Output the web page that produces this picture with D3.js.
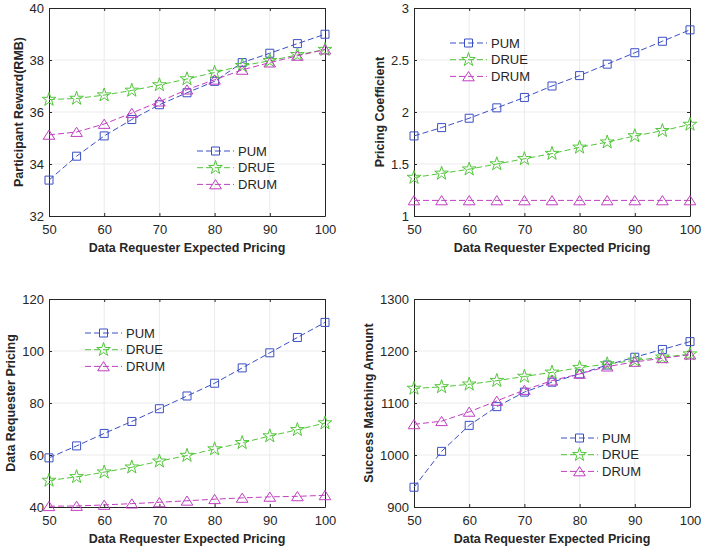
<!DOCTYPE html>
<html>
<head>
<meta charset="utf-8">
<script src="https://cdn.jsdelivr.net/npm/d3@7"></script>
<style>
  body { margin: 0; background: #fff; }
  svg { display: block; font-family: "Liberation Sans", Arial, sans-serif; }
</style>
</head>
<body>
<div class="canvas"></div>
<script>
// shared x values
const pricing = [50, 55, 60, 65, 70, 75, 80, 85, 90, 95, 100]
const xTicks = [50, 60, 70, 80, 90, 100]
const seriesNames = ['PUM', 'DRUE', 'DRUM']

// participant reward
const rewardPUM = [33.38, 34.30, 35.08, 35.71, 36.28, 36.74, 37.18, 37.90, 38.26, 38.63, 38.99]
const rewardDRUE = [36.48, 36.52, 36.65, 36.83, 37.04, 37.27, 37.52, 37.78, 37.97, 38.20, 38.40]
const rewardDRUM = [35.12, 35.23, 35.54, 35.96, 36.40, 36.86, 37.24, 37.62, 37.90, 38.16, 38.40]
const rewardTicks = [32, 34, 36, 38, 40]

// pricing coefficient
const coefPUM = [1.77, 1.85, 1.94, 2.04, 2.14, 2.25, 2.35, 2.46, 2.57, 2.68, 2.79]
const coefDRUE = [1.37, 1.41, 1.45, 1.50, 1.55, 1.60, 1.66, 1.71, 1.77, 1.82, 1.88]
const coefDRUM = [1.15, 1.15, 1.15, 1.15, 1.15, 1.15, 1.15, 1.15, 1.15, 1.15, 1.15]
const coefTicks = [1, 1.5, 2, 2.5, 3]

// data requester pricing
const reqPUM = [58.9, 63.5, 68.3, 72.9, 77.8, 82.7, 87.6, 93.5, 99.3, 105.2, 111.0]
const reqDRUE = [50.2, 51.6, 53.4, 55.3, 57.6, 59.8, 62.3, 64.7, 67.3, 69.7, 72.3]
const reqDRUM = [40.3, 40.4, 40.8, 41.3, 41.8, 42.4, 43.0, 43.5, 43.9, 44.1, 44.5]
const reqTicks = [40, 60, 80, 100, 120]

// success matching amount
const matchPUM = [938, 1007, 1057, 1093, 1121, 1140, 1156, 1173, 1188, 1203, 1218]
const matchDRUE = [1128, 1131, 1136, 1143, 1151, 1159, 1168, 1175, 1182, 1188, 1194]
const matchDRUM = [1059, 1065, 1083, 1104, 1125, 1143, 1156, 1170, 1179, 1186, 1193]
const matchTicks = [900, 1000, 1100, 1200, 1300]

const colors = ['#3b4fc4', '#52c63a', '#c03fc0']

const svg = d3.select('.canvas')
  .append('svg')
  .attr('width', 702)
  .attr('height', 553)

// marker shapes centred on their box, like matlab
const markerPath = (i) => {
  if (i === 0) return 'M-4,-4H4V4H-4Z'
  if (i === 1) return d3.symbol(d3.symbolStar, 58)()
  return 'M0,-4.8L5.8,4.4H-5.8Z'
}

const panels = [
  { left: 49, top: 8, ylabel: 'Participant Reward(RMB)', series: [rewardPUM, rewardDRUE, rewardDRUM],
    ticks: rewardTicks, fmt: d3.format('d'), legend: { x: 197, y: 151 }, labelX: 18 },
  { left: 414, top: 8, ylabel: 'Pricing Coefficient', series: [coefPUM, coefDRUE, coefDRUM],
    ticks: coefTicks, fmt: d => d, legend: { x: 450, y: 43 }, labelX: 379 },
  { left: 49, top: 299, ylabel: 'Data Requester Pricing', series: [reqPUM, reqDRUE, reqDRUM],
    ticks: reqTicks, fmt: d3.format('d'), legend: { x: 85, y: 333 }, labelX: 10 },
  { left: 414, top: 299, ylabel: 'Success Matching Amount', series: [matchPUM, matchDRUE, matchDRUM],
    ticks: matchTicks, fmt: d3.format('d'), legend: { x: 561, y: 438 }, labelX: 368 }
]

const w = 276, h = 208

panels.forEach(p => {
  const g = svg.append('g').attr('transform', `translate(${p.left}, ${p.top})`)

  const x = d3.scaleLinear().domain([50, 100]).range([0, w])
  const y = d3.scaleLinear().domain(d3.extent(p.ticks)).range([h, 0])

  // grid
  g.append('g').selectAll('line').data(xTicks.slice(1, -1)).join('line')
    .attr('x1', d => x(d)).attr('x2', d => x(d)).attr('y1', 0).attr('y2', h)
    .attr('stroke', '#ebebeb').attr('stroke-width', 1)
  g.append('g').selectAll('line').data(p.ticks.slice(1, -1)).join('line')
    .attr('y1', d => y(d)).attr('y2', d => y(d)).attr('x1', 0).attr('x2', w)
    .attr('stroke', '#ebebeb').attr('stroke-width', 1)

  // axes with inward ticks
  g.append('g').attr('transform', `translate(0, ${h})`)
    .call(d3.axisBottom(x).tickValues(xTicks).tickSizeInner(-3).tickSizeOuter(0).tickPadding(9))
  g.append('g')
    .call(d3.axisLeft(y).tickValues(p.ticks).tickFormat(p.fmt).tickSizeInner(-3).tickSizeOuter(0).tickPadding(5))
  g.append('g')
    .call(d3.axisTop(x).tickValues(xTicks).tickFormat('').tickSizeInner(-3).tickSizeOuter(0))
  g.append('g').attr('transform', `translate(${w}, 0)`)
    .call(d3.axisRight(y).tickValues(p.ticks).tickFormat('').tickSizeInner(-3).tickSizeOuter(0))

  g.selectAll('.domain, .tick line').attr('stroke', '#262626')
  g.selectAll('.tick text').attr('fill', '#262626').style('font-size', '13px')

  // axis labels
  g.append('text')
    .attr('x', w / 2).attr('y', h + 36)
    .attr('text-anchor', 'middle')
    .style('font-size', '12.5px').style('font-weight', 'bold').attr('fill', '#262626')
    .text('Data Requester Expected Pricing')
  g.append('text')
    .attr('transform', `translate(${p.labelX - p.left + 4.5}, ${h / 2}) rotate(-90)`)
    .attr('text-anchor', 'middle')
    .style('font-size', '12.5px').style('font-weight', 'bold').attr('fill', '#262626')
    .text(p.ylabel)

  const line = d3.line()
    .x((d, i) => x(pricing[i]))
    .y(d => y(d))

  p.series.forEach((vals, si) => {
    g.append('path')
      .datum(vals)
      .attr('fill', 'none')
      .attr('stroke', colors[si])
      .attr('stroke-width', 1)
      .attr('stroke-dasharray', '6,3')
      .attr('d', line)

    g.append('g').selectAll('path').data(vals).join('path')
      .attr('transform', (d, i) => `translate(${x(pricing[i])}, ${y(d)})`)
      .attr('d', markerPath(si))
      .attr('fill', 'none')
      .attr('stroke', colors[si])
      .attr('stroke-width', 1)
  })

  // legend
  const lg = svg.append('g').attr('transform', `translate(${p.legend.x}, ${p.legend.y})`)
  seriesNames.forEach((name, si) => {
    const row = lg.append('g').attr('transform', `translate(0, ${si * 16.7})`)
    row.append('line')
      .attr('x1', 0).attr('x2', 37).attr('y1', 0).attr('y2', 0)
      .attr('stroke', colors[si]).attr('stroke-dasharray', '6,3')
    row.append('path')
      .attr('transform', 'translate(18.5, 0)')
      .attr('d', markerPath(si))
      .attr('fill', 'none').attr('stroke', colors[si])
    row.append('text')
      .attr('x', 41).attr('y', 0).attr('dy', '0.35em')
      .style('font-size', '13px').attr('fill', '#262626')
      .text(name)
  })
})
</script>
</body>
</html>
